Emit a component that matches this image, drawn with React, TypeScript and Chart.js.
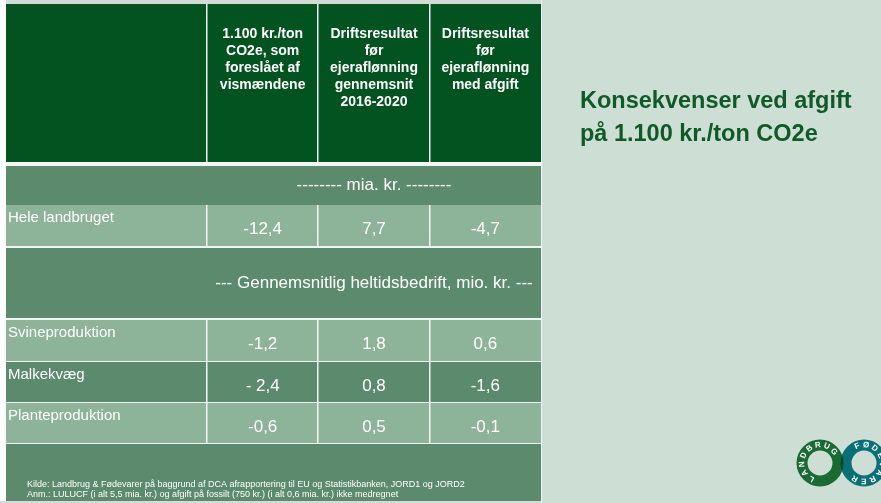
import React, { useEffect, useRef } from "react";
import { Chart, registerables } from "chart.js";

Chart.register(...registerables);

// ---------- data ----------
const columnHeaders: string[][] = [
  ["1.100 kr./ton", "CO2e, som", "foreslået af", "vismændene"],
  ["Driftsresultat", "før", "ejeraflønning", "gennemsnit", "2016-2020"],
  ["Driftsresultat", "før", "ejeraflønning", "med afgift"],
];
const sectionLabels = [
  "-------- mia. kr. --------",
  "--- Gennemsnitlig heltidsbedrift, mio. kr. ---",
];
const totalLabels = ["Hele landbruget"];
const totalAfgift = ["-12,4"];
const totalDrift = ["7,7"];
const totalDriftMed = ["-4,7"];
const farmLabels = ["Svineproduktion", "Malkekvæg", "Planteproduktion"];
const farmAfgift = ["-1,2", "- 2,4", "-0,6"];
const farmDrift = ["1,8", "0,8", "0,5"];
const farmDriftMed = ["0,6", "-1,6", "-0,1"];
const titleLines = ["Konsekvenser ved afgift", "på 1.100 kr./ton CO2e"];
const noteLines = [
  "Kilde: Landbrug & Fødevarer på baggrund af DCA afrapportering til EU og Statistikbanken, JORD1 og JORD2",
  "Anm.: LULUCF (i alt 5,5 mia. kr.) og afgift på fossilt (750 kr.) (i alt 0,6 mia. kr.) ikke medregnet",
];
const logoWords = ["LANDBRUG", "FØDEVARER"];

// ---------- styles ----------
const FONT = "'Liberation Sans', Arial, sans-serif";
const C = {
  dark: "#02531f",
  mid: "#5c8a6c",
  light: "#8db398",
  panel: "#cddfd5",
  strip: "#d2dbd6",
  title: "#0f5a26",
  ringL: "#1a6a34",
  ringR: "#0b6f78",
  ringX: "#034520",
};

type Row = { kind: string; h: number; idx?: number };

const tablePlugin = {
  id: "tablePlugin",
  beforeDraw(chart: any) {
    const ctx: CanvasRenderingContext2D = chart.ctx;
    const W = chart.width;
    const H = chart.height;
    const a = chart.chartArea;
    const L = a.left;
    const R = a.right;
    const labelW = 201;
    const colW = (R - L - labelW) / 3;
    const colEdges = [L + labelW, L + labelW + colW, L + labelW + 2 * colW, R];
    const colCenter = (i: number) => (colEdges[i] + colEdges[i + 1]) / 2;

    ctx.save();
    // page background
    ctx.fillStyle = "#ffffff";
    ctx.fillRect(0, 0, W, H);
    ctx.fillStyle = C.strip;
    ctx.fillRect(L, 0, W - L, a.top);
    ctx.fillRect(0, H - 2, W, 2);
    ctx.fillStyle = C.panel;
    ctx.fillRect(R + 1, 0, W - R - 1, H);

    const rows: Row[] = [
      { kind: "header", h: 158 },
      { kind: "gap", h: 4 },
      { kind: "section", h: 39, idx: 0 },
      { kind: "total", h: 41, idx: 0 },
      { kind: "line", h: 2 },
      { kind: "section", h: 70, idx: 1 },
      { kind: "line", h: 2 },
      { kind: "farm", h: 41, idx: 0 },
      { kind: "line", h: 1 },
      { kind: "farm", h: 40, idx: 1 },
      { kind: "line", h: 1 },
      { kind: "farm", h: 40, idx: 2 },
      { kind: "line", h: 1 },
      { kind: "footer", h: H - 2 - 444 },
    ];

    let y = a.top;
    ctx.textBaseline = "middle";
    for (const r of rows) {
      const top = y;
      const h = r.h;
      y += h;
      if (r.kind === "gap" || r.kind === "line") {
        ctx.fillStyle = "#f2f5f3";
        ctx.fillRect(L, top, R - L, h);
        continue;
      }
      let fill = C.mid;
      if (r.kind === "header") fill = C.dark;
      else if (r.kind === "total") fill = C.light;
      else if (r.kind === "farm") fill = r.idx === 1 ? C.mid : C.light;
      ctx.fillStyle = fill;
      ctx.fillRect(L, top, R - L, h);

      ctx.fillStyle = "#ffffff";
      if (r.kind === "header") {
        ctx.font = `bold 14px ${FONT}`;
        ctx.textAlign = "center";
        columnHeaders.forEach((lines, ci) => {
          lines.forEach((t, li) => ctx.fillText(t, colCenter(ci), top + 30 + li * 17));
        });
      } else if (r.kind === "section") {
        ctx.font = `17px ${FONT}`;
        ctx.textAlign = "center";
        ctx.fillText(sectionLabels[r.idx!], (colEdges[0] + R) / 2, top + h / 2);
      } else if (r.kind === "total" || r.kind === "farm") {
        const i = r.idx!;
        const label = r.kind === "total" ? totalLabels[i] : farmLabels[i];
        const vals =
          r.kind === "total"
            ? [totalAfgift[i], totalDrift[i], totalDriftMed[i]]
            : [farmAfgift[i], farmDrift[i], farmDriftMed[i]];
        ctx.font = `15px ${FONT}`;
        ctx.textAlign = "left";
        ctx.fillText(label, L + 2, top + 13);
        ctx.font = `17px ${FONT}`;
        ctx.textAlign = "center";
        vals.forEach((v, ci) => ctx.fillText(v, colCenter(ci), top + 24));
      } else if (r.kind === "footer") {
        ctx.font = `9px ${FONT}`;
        ctx.textAlign = "left";
        noteLines.forEach((t, li) => ctx.fillText(t, L + 21, top + 41 + li * 9.5));
      }

      // vertical separators
      if (r.kind === "header" || r.kind === "total" || r.kind === "farm") {
        ctx.fillStyle = "#f2f5f3";
        for (let k = 0; k < 3; k++) ctx.fillRect(Math.round(colEdges[k]) - 1, top, 1.5, h);
      }
    }
    // right edge line
    ctx.fillStyle = "#f2f5f3";
    ctx.fillRect(R, 0, 1, H);

    // title
    ctx.fillStyle = C.title;
    ctx.font = `bold 23.5px ${FONT}`;
    ctx.textAlign = "left";
    titleLines.forEach((t, li) => ctx.fillText(t, 580, 102 + li * 33));

    // logo
    const cyL = 463;
    const rings = [
      { x: 820, color: C.ringL },
      { x: 864, color: C.ringR },
    ];
    const rOut = 23.5;
    const rIn = 12.5;
    rings.forEach((g) => {
      ctx.beginPath();
      ctx.arc(g.x, cyL, rOut, 0, Math.PI * 2);
      ctx.arc(g.x, cyL, rIn, 0, Math.PI * 2, true);
      ctx.fillStyle = g.color;
      ctx.fill("evenodd");
    });
    // overlap
    ctx.save();
    ctx.beginPath();
    ctx.arc(rings[0].x, cyL, rOut, 0, Math.PI * 2);
    ctx.arc(rings[0].x, cyL, rIn, 0, Math.PI * 2, true);
    ctx.clip("evenodd");
    ctx.beginPath();
    ctx.arc(rings[1].x, cyL, rOut, 0, Math.PI * 2);
    ctx.arc(rings[1].x, cyL, rIn, 0, Math.PI * 2, true);
    ctx.fillStyle = C.ringX;
    ctx.fill("evenodd");
    ctx.restore();
    // letters
    ctx.fillStyle = "#ffffff";
    ctx.font = `bold 8px ${FONT}`;
    ctx.textAlign = "center";
    ctx.textBaseline = "middle";
    const rText = (rOut + rIn) / 2;
    const starts = [118, 248];
    logoWords.forEach((w, wi) => {
      const g = rings[wi];
      [...w].forEach((ch, k) => {
        const ang = ((starts[wi] + k * 29) * Math.PI) / 180;
        ctx.save();
        ctx.translate(g.x + rText * Math.cos(ang), cyL + rText * Math.sin(ang));
        ctx.rotate(ang + Math.PI / 2);
        ctx.fillText(ch, 0, 0);
        ctx.restore();
      });
    });
    ctx.restore();
  },
};

export default function App() {
  const ref = useRef<HTMLCanvasElement>(null);
  useEffect(() => {
    const chart = new Chart(ref.current!, {
      type: "bar",
      data: { labels: [...totalLabels, ...farmLabels], datasets: [] },
      options: {
        responsive: false,
        animation: false,
        layout: { padding: { left: 6, top: 4, right: 340, bottom: 0 } },
        plugins: { legend: { display: false }, tooltip: { enabled: false } },
        scales: { x: { display: false }, y: { display: false } },
      },
      plugins: [tablePlugin],
    });
    return () => chart.destroy();
  }, []);
  return (
    <div style={{ position: "absolute", left: 0, top: 0, width: 881, height: 503 }}>
      <canvas ref={ref} width={881} height={503} style={{ display: "block" }} />
    </div>
  );
}
